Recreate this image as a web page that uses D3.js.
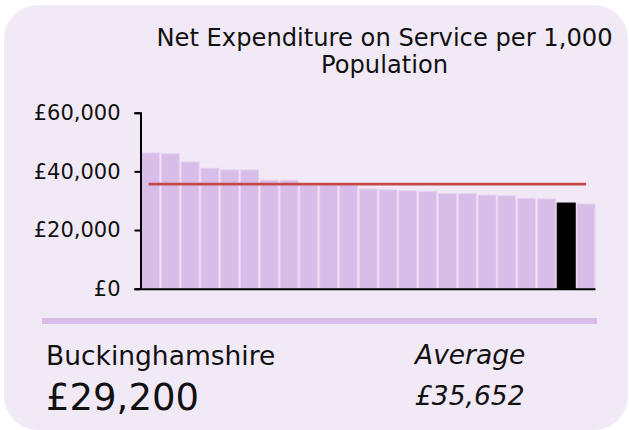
<!DOCTYPE html>
<html>
<head>
<meta charset="utf-8">
<script src="https://cdn.jsdelivr.net/npm/d3@7"></script>
<style>
  body { margin: 0; background: #fff; }
  svg { display: block; font-family: "DejaVu Sans", Verdana, sans-serif; }
</style>
</head>
<body>
<svg></svg>
<script>
// authorities in ranked order; only the highlighted one is named on the chart
const categories = ['LA01', 'LA02', 'LA03', 'LA04', 'LA05', 'LA06', 'LA07', 'LA08', 'LA09', 'LA10',
    'LA11', 'LA12', 'LA13', 'LA14', 'LA15', 'LA16', 'LA17', 'LA18', 'LA19', 'LA20',
    'LA21', 'Buckinghamshire', 'LA23'];
const values = [46300, 46000, 43200, 41100, 40500, 40500, 37000, 37000, 35400, 35400,
    35400, 34000, 33700, 33400, 33200, 32400, 32400, 31900, 31700, 30800,
    30600, 29200, 28900];
const yTicks = [0, 20000, 40000, 60000];
const highlight = 'Buckinghamshire';
const highlightValue = 29200;
const averageValue = 35652;
const titleLines = ['Net Expenditure on Service per 1,000', 'Population'];

const data = categories.map((c, i) => ({ name: c, value: values[i] }));

const svgWidth = 629;
const svgHeight = 430;
const fmt = v => '£' + d3.format(',')(v);

const svg = d3.select('svg')
    .attr('width', svgWidth)
    .attr('height', svgHeight);

// card background
svg.append('rect')
    .attr('x', 4)
    .attr('y', 5)
    .attr('width', 624)
    .attr('height', 425)
    .attr('rx', 34)
    .attr('fill', '#f2e9f7');

// title
svg.append('text')
    .attr('x', 384.5)
    .attr('y', 46)
    .attr('text-anchor', 'middle')
    .attr('font-size', '24.2px')
    .attr('fill', '#111')
    .selectAll('tspan')
    .data(titleLines)
    .enter().append('tspan')
    .attr('x', 384.5)
    .attr('dy', (d, i) => i === 0 ? 0 : 27.3)
    .text(d => d);

const xScale = d3.scaleBand()
    .domain(categories)
    .range([141.5, 595])
    .paddingInner(0.09)
    .paddingOuter(0);

const yScale = d3.scaleLinear()
    .domain([0, 60000])
    .range([288.7, 112.7]);

svg.selectAll('.bar')
    .data(data)
    .enter().append('rect')
    .attr('class', 'bar')
    .attr('x', d => xScale(d.name))
    .attr('y', d => yScale(d.value))
    .attr('width', xScale.bandwidth())
    .attr('height', d => yScale(0) - yScale(d.value))
    .attr('fill', d => d.name === highlight ? '#000' : '#d9bde9')
    .attr('stroke', d => d.name === highlight ? '#000' : '#e6d2f0')
    .attr('stroke-width', 1);

// average line
svg.append('line')
    .attr('x1', xScale(categories[0]) + xScale.bandwidth() / 2 - 2)
    .attr('x2', xScale(categories[categories.length - 1]) + xScale.bandwidth() / 2)
    .attr('y1', yScale(averageValue))
    .attr('y2', yScale(averageValue))
    .attr('stroke', '#c4494a')
    .attr('stroke-width', 2.7);

const yAxis = svg.append('g')
    .attr('transform', 'translate(140.5, 0)')
    .call(d3.axisLeft(yScale).tickValues(yTicks).tickFormat(fmt).tickSize(6).tickPadding(14));
yAxis.selectAll('text')
    .attr('font-size', '21px')
    .attr('font-family', '"DejaVu Sans", Verdana, sans-serif')
    .attr('fill', '#111');
yAxis.selectAll('path, line').attr('stroke', '#000').attr('stroke-width', 2);

const xAxis = svg.append('g')
    .attr('transform', `translate(0, ${yScale(0)})`)
    .call(d3.axisBottom(xScale).tickSize(0).tickSizeOuter(0).tickFormat(''));
xAxis.select('.domain').attr('stroke', '#000').attr('stroke-width', 2);

// divider
svg.append('rect')
    .attr('x', 42)
    .attr('y', 318)
    .attr('width', 555)
    .attr('height', 6)
    .attr('fill', '#d9bde9');

// footer figures
svg.append('text')
    .attr('x', 46)
    .attr('y', 365)
    .attr('font-size', '26.5px')
    .attr('fill', '#111')
    .text(highlight);

svg.append('text')
    .attr('x', 46)
    .attr('y', 410)
    .attr('font-size', '37px')
    .attr('fill', '#111')
    .text(fmt(highlightValue));

svg.append('text')
    .attr('x', 415)
    .attr('y', 364)
    .attr('font-size', '26.5px')
    .attr('font-style', 'italic')
    .attr('fill', '#111')
    .text('Average');

svg.append('text')
    .attr('x', 415)
    .attr('y', 405)
    .attr('font-size', '26.5px')
    .attr('font-style', 'italic')
    .attr('fill', '#111')
    .text(fmt(averageValue));
</script>
</body>
</html>
